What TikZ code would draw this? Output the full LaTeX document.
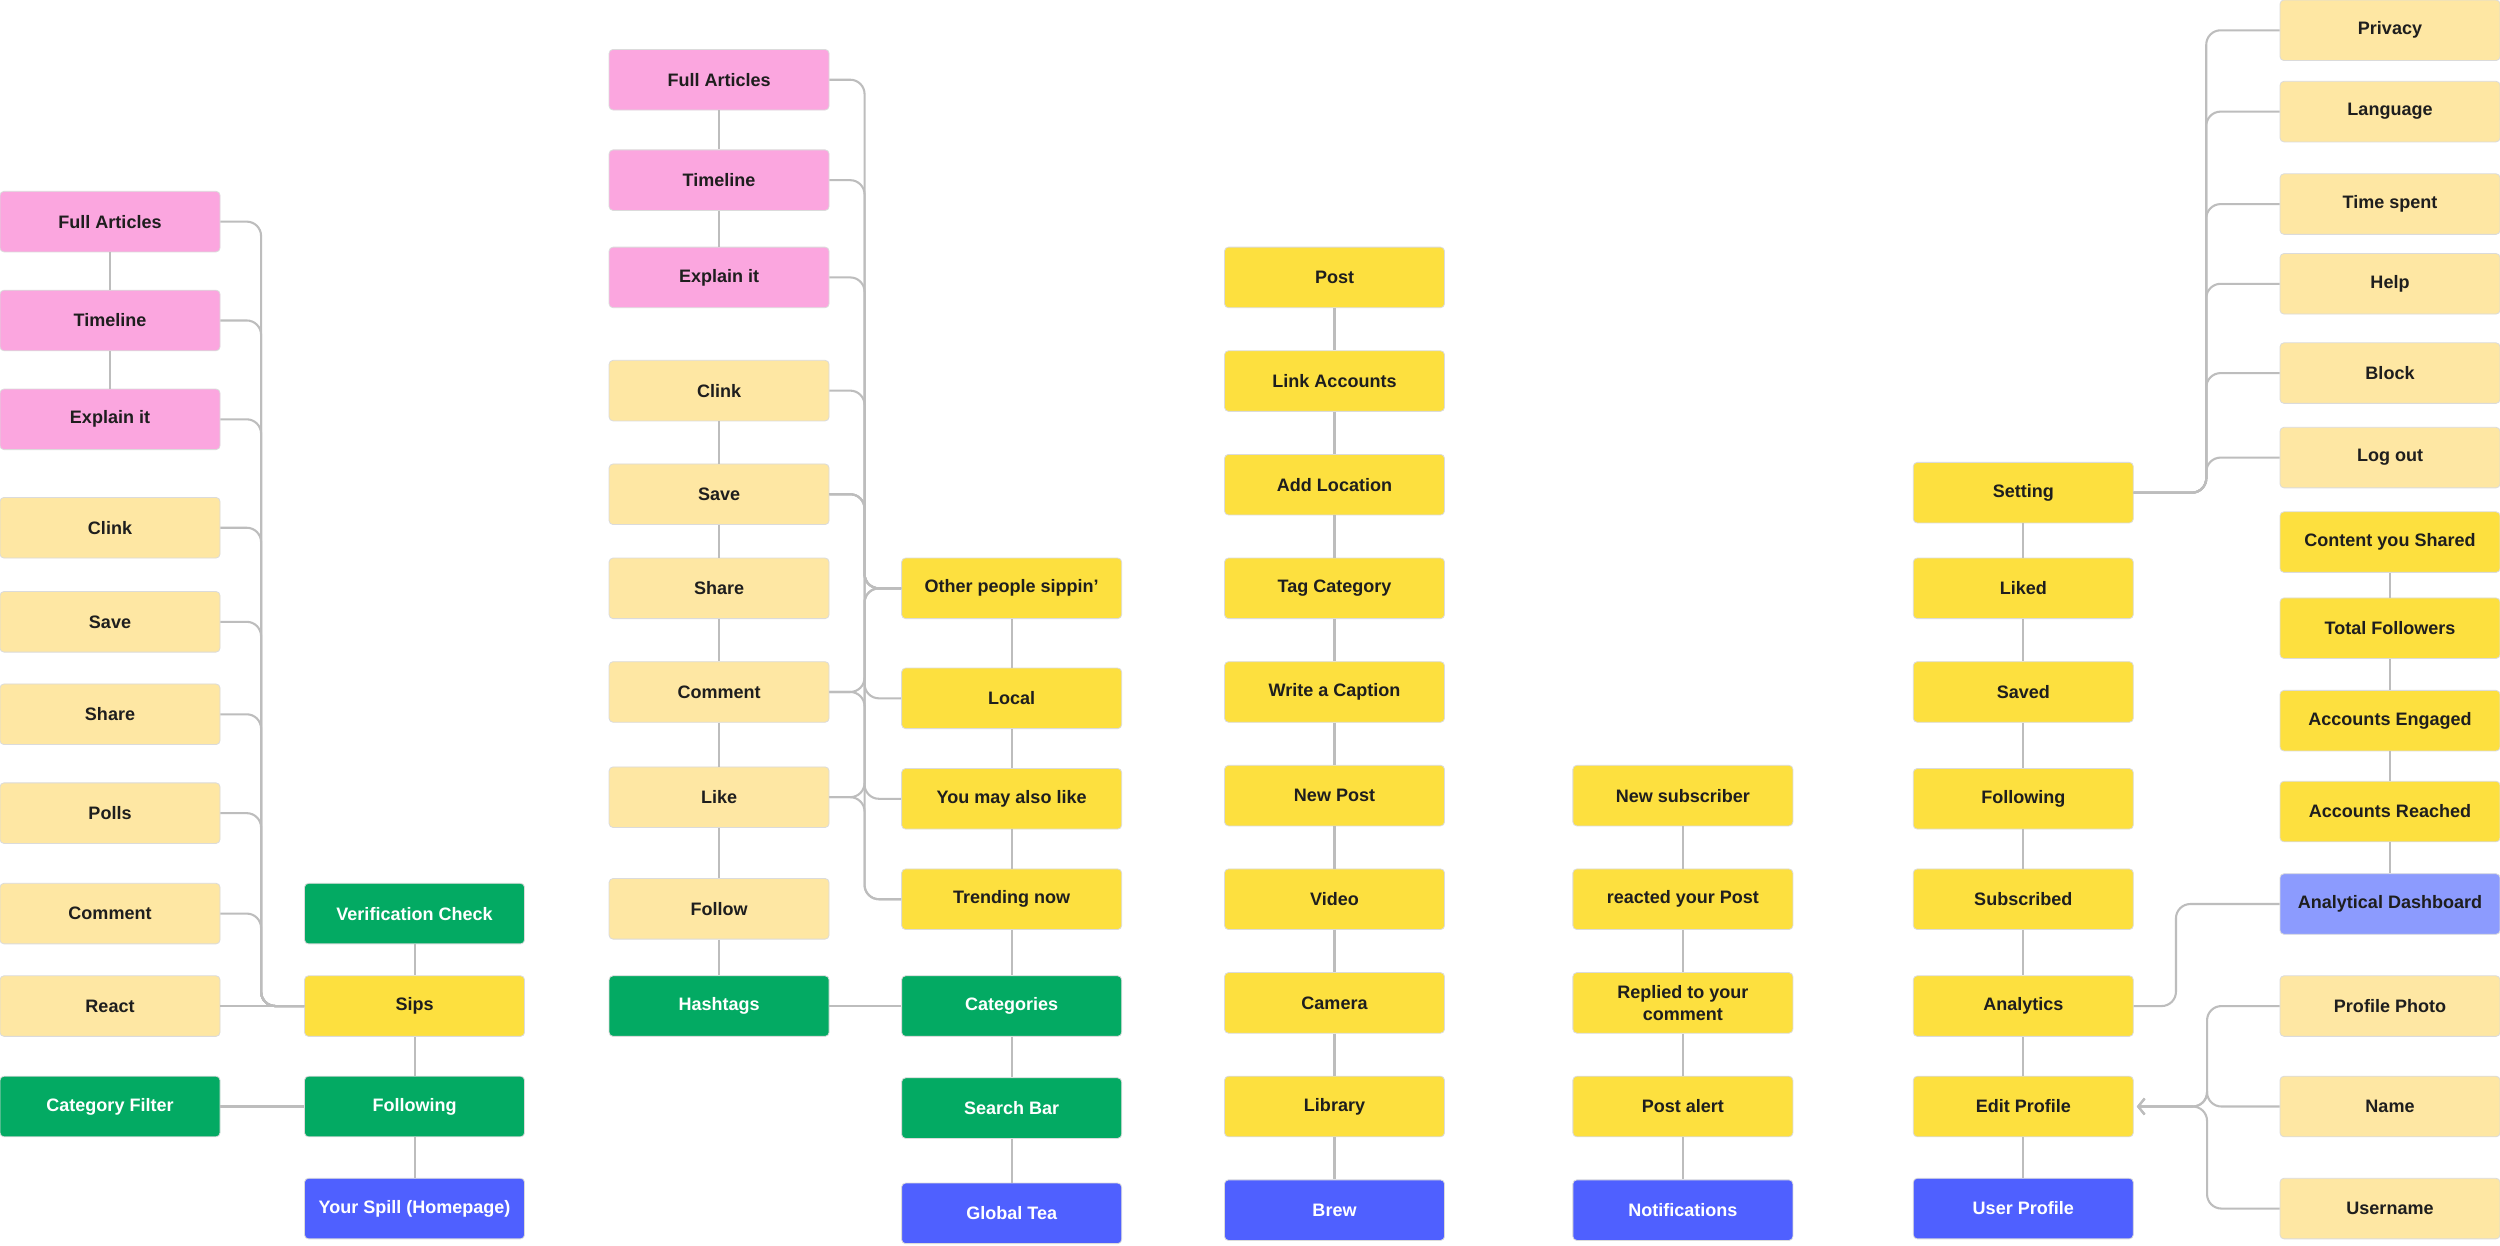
\documentclass[tikz,border=0pt]{standalone}
\usepackage{fontspec}
\setmainfont{Liberation Sans}
\usetikzlibrary{arrows.meta}
\definecolor{pinkfill}{HTML}{FBA6DF}
\definecolor{creamfill}{HTML}{FEE7A3}
\definecolor{yellowfill}{HTML}{FDE03F}
\definecolor{greenfill}{HTML}{03AA63}
\definecolor{bluefill}{HTML}{4F60FF}
\definecolor{lilacfill}{HTML}{8C9BFE}
\definecolor{linkgrey}{HTML}{BDBDBD}
\definecolor{inkdark}{HTML}{1E1E1E}
\def\cardfont{\fontsize{11.3}{14}\selectfont\bfseries}
\tikzset{
	card/.style={rectangle, rounded corners=2.5pt, minimum width=138pt, minimum height=38pt, inner sep=2pt, draw=black!14, line width=0.5pt, font=\cardfont, text=inkdark, align=center},
	pinkcard/.style={card, fill=pinkfill},
	creamcard/.style={card, fill=creamfill},
	yellowcard/.style={card, fill=yellowfill},
	greencard/.style={card, fill=greenfill, text=white},
	bluecard/.style={card, fill=bluefill, text=white},
	lilaccard/.style={card, fill=lilacfill},
	link/.style={draw=linkgrey, line width=1.3pt, rounded corners=9pt},
}

\begin{document}
\begin{tikzpicture}[x=1pt, y=-1pt]
			%%%%% START %%%%%
			\useasboundingbox (0,0) rectangle (1568,781);
			\fill[white] (0,0) rectangle (1568,781);
			
			% sips
			\node[pinkcard] (fa1) at (69,139) {Full Articles};
			\node[pinkcard] (tl1) at (69,201) {Timeline};
			\node[pinkcard] (ex1) at (69,263) {Explain it};
			\node[creamcard] (cl1) at (69,331) {Clink};
			\node[creamcard] (sv1) at (69,390) {Save};
			\node[creamcard] (sh1) at (69,448) {Share};
			\node[creamcard] (po1) at (69,510) {Polls};
			\node[creamcard] (cm1) at (69,573) {Comment};
			\node[creamcard] (re1) at (69,631) {React};
			\node[greencard] (cf1) at (69,694) {Category Filter};
			\node[greencard] (vc1) at (260,573) {Verification Check};
			\node[yellowcard] (sips) at (260,631) {Sips};
			\node[greencard] (fo1) at (260,694) {Following};
			\node[bluecard] (spill) at (260,758) {Your Spill (Homepage)};
			
			% global tea
			\node[pinkcard] (fa2) at (451,50) {Full Articles};
			\node[pinkcard] (tl2) at (451,113) {Timeline};
			\node[pinkcard] (ex2) at (451,174) {Explain it};
			\node[creamcard] (cl2) at (451,245) {Clink};
			\node[creamcard] (sv2) at (451,310) {Save};
			\node[creamcard] (sh2) at (451,369) {Share};
			\node[creamcard] (cm2) at (451,434) {Comment};
			\node[creamcard] (lk2) at (451,500) {Like};
			\node[creamcard] (fw2) at (451,570) {Follow};
			\node[greencard] (ht2) at (451,631) {Hashtags};
			\node[yellowcard] (ops) at (634.5,369) {Other people sippin’};
			\node[yellowcard] (local) at (634.5,438) {Local};
			\node[yellowcard] (ymal) at (634.5,501) {You may also like};
			\node[yellowcard] (trend) at (634.5,564) {Trending now};
			\node[greencard] (cat) at (634.5,631) {Categories};
			\node[greencard] (search) at (634.5,695) {Search Bar};
			\node[bluecard] (tea) at (634.5,761) {Global Tea};
			
			% brew
			\node[yellowcard] (post) at (837,174) {Post};
			\node[yellowcard] (accts) at (837,239) {Link Accounts};
			\node[yellowcard] (place) at (837,304) {Add Location};
			\node[yellowcard] (tag) at (837,369) {Tag Category};
			\node[yellowcard] (caption) at (837,434) {Write a Caption};
			\node[yellowcard] (newpost) at (837,499) {New Post};
			\node[yellowcard] (video) at (837,564) {Video};
			\node[yellowcard] (camera) at (837,629) {Camera};
			\node[yellowcard] (library) at (837,694) {Library};
			\node[bluecard] (brew) at (837,759) {Brew};
			
			% notifications
			\node[yellowcard] (newsub) at (1055.5,499) {New subscriber};
			\node[yellowcard] (reacted) at (1055.5,564) {reacted your Post};
			\node[yellowcard] (replied) at (1055.5,629) {Replied to your\\comment};
			\node[yellowcard] (alert) at (1055.5,694) {Post alert};
			\node[bluecard] (notif) at (1055.5,759) {Notifications};
			
			% user profile
			\node[yellowcard] (setting) at (1269,309) {Setting};
			\node[yellowcard] (liked) at (1269,369) {Liked};
			\node[yellowcard] (saved) at (1269,434) {Saved};
			\node[yellowcard] (fol5) at (1269,501) {Following};
			\node[yellowcard] (subs) at (1269,564) {Subscribed};
			\node[yellowcard] (analytics) at (1269,631) {Analytics};
			\node[yellowcard] (edit) at (1269,694) {Edit Profile};
			\node[bluecard] (user) at (1269,758) {User Profile};
			
			\node[creamcard] (privacy) at (1499,19) {Privacy};
			\node[creamcard] (lang) at (1499,70) {Language};
			\node[creamcard] (time) at (1499,128) {Time spent};
			\node[creamcard] (help) at (1499,178) {Help};
			\node[creamcard] (block) at (1499,234) {Block};
			\node[creamcard] (logout) at (1499,287) {Log out};
			\node[yellowcard] (shared) at (1499,340) {Content you Shared};
			\node[yellowcard] (totf) at (1499,394) {Total Followers};
			\node[yellowcard] (engaged) at (1499,452) {Accounts Engaged};
			\node[yellowcard] (reached) at (1499,509) {Accounts Reached};
			\node[lilaccard] (dash) at (1499,567) {Analytical Dashboard};
			\node[creamcard] (photo) at (1499,631) {Profile Photo};
			\node[creamcard] (name) at (1499,694) {Name};
			\node[creamcard] (uname) at (1499,758) {Username};
			
			% straight links
			\foreach \a/\b in {fa1/tl1, tl1/ex1, vc1/sips, sips/fo1, fo1/spill, re1/sips, cf1/fo1,
				fa2/tl2, tl2/ex2, cl2/sv2, sv2/sh2, sh2/cm2, cm2/lk2, lk2/fw2, fw2/ht2, ht2/cat,
				ops/local, local/ymal, ymal/trend, trend/cat, cat/search, search/tea,
				post/accts, accts/place, place/tag, tag/caption, caption/newpost, newpost/video, video/camera, camera/library, library/brew,
				newsub/reacted, reacted/replied, replied/alert, alert/notif,
				setting/liked, liked/saved, saved/fol5, fol5/subs, subs/analytics, analytics/edit, edit/user,
				shared/totf, totf/engaged, engaged/reached, reached/dash}
				\draw[link] (\a) -- (\b);
			
			% bus links
			\foreach \s in {fa1, tl1, ex1, cl1, sv1, sh1, po1, cm1}
				\draw[link] (\s.east) -| ([xshift=-27pt]sips.west) -- (sips.west);
			\foreach \s in {fa2, tl2, ex2, cl2, sv2, cm2, lk2}
				\draw[link] (\s.east) -| ([xshift=-23pt]ops.west) -- (ops.west);
			\foreach \s/\t in {sv2/local, sv2/ymal, cm2/trend, lk2/trend}
				\draw[link] (\s.east) -| ([xshift=-23pt]\t.west) -- (\t.west);
			\foreach \t in {privacy, lang, time, help, block, logout}
				\draw[link] (setting.east) -| ([xshift=-46pt]\t.west) -- (\t.west);
			\draw[link] (analytics.east) -| ([xshift=-65pt]dash.west) -- (dash.west);
			\foreach \s in {photo, name, uname}
				\draw[link, -{Straight Barb[length=4pt, width=10pt]}, shorten >=2pt] (\s.west) -| ([xshift=46pt]edit.east) -- (edit.east);
			
			%%%%% END %%%%%
\end{tikzpicture}
\end{document}
